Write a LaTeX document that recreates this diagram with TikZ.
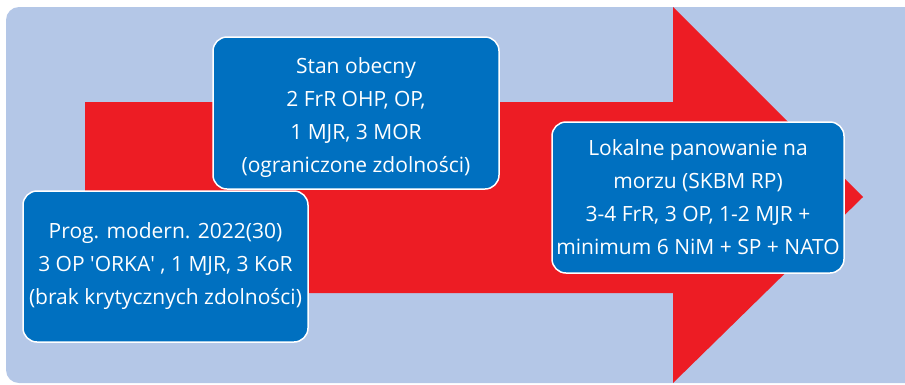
\documentclass[tikz,border=0pt]{standalone}
\usepackage{fontspec}
\setmainfont{Open Sans}
\usetikzlibrary{positioning}

\definecolor{bgblue}{RGB}{180,199,231}
\definecolor{arrowred}{RGB}{237,28,36}
\definecolor{boxblue}{RGB}{0,112,192}

\begin{document}
\begin{tikzpicture}[x=1pt, y=-1pt,
    box/.style={rectangle, rounded corners=14pt, draw=white, line width=1.5pt,
      fill=boxblue, text=white, align=center, inner sep=0pt,
      font=\fontsize{21}{33}\selectfont}]
    \path[use as bounding box, clip] (0,0) rectangle (905,384);

    % Background and arrow
    \fill[bgblue, rounded corners=13pt] (6,7) rectangle (930,383);
    \fill[arrowred] (85,102) -- (673,102) -- (673,7) -- (863,197)
      -- (673,383) -- (673,293) -- (85,293) -- cycle;

    % Stages
    \node (stan) [box, minimum width=286pt, minimum height=152pt] at (356,113)
      {\rule{0pt}{26pt}Stan obecny\\2 FrR OHP, OP,\\1 MJR, 3 MOR\\(ograniczone zdolności)};
    \node (prog) [box, minimum width=285pt, minimum height=151pt] at (165.5,266.5)
      {Prog. modern. 2022(30)\\3 OP \textquotesingle ORKA\textquotesingle\ , 1 MJR, 3 KoR\\(brak krytycznych zdolności)};
    \node (lok) [box, minimum width=292pt, minimum height=151pt] at (698,197.5)
      {Lokalne panowanie na\\morzu (SKBM RP)\\3-4 FrR, 3 OP, 1-2 MJR +\\minimum 6 NiM + SP + NATO};
\end{tikzpicture}
\end{document}
